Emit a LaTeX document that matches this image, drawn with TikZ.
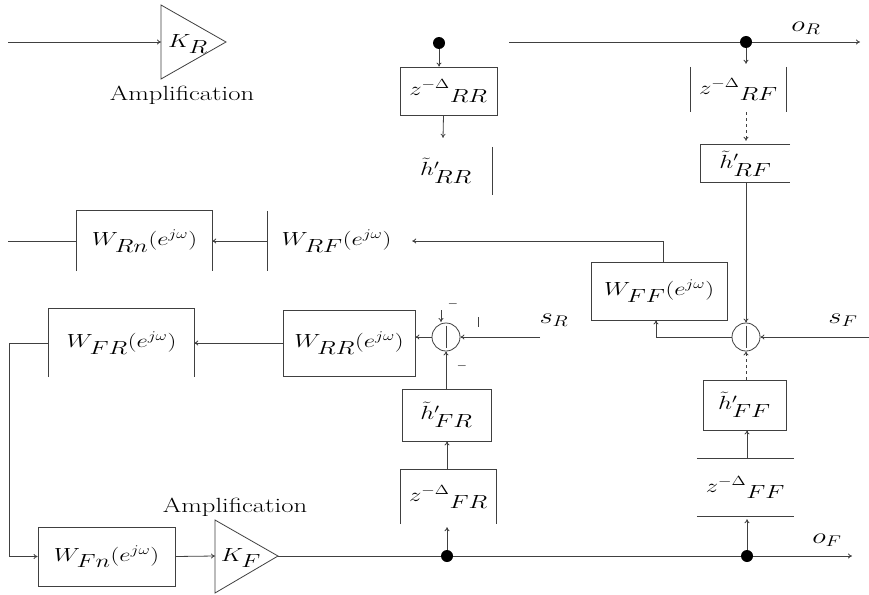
\RequirePackage{fix-cm}
\documentclass[tikz,border=0pt]{standalone}
\usepackage{fontspec}
\usetikzlibrary{arrows.meta}
\newcommand\hx[1]{\scalebox{1.3}[1]{#1}}
\begin{document}
\begin{tikzpicture}[x=1pt,y=-1pt,
  ln/.style={draw=black!75, line width=0.8pt},
  arr/.style={ln, -{To[length=4pt,width=5pt]}},
  lbl/.style={font=\fontsize{19}{23}\selectfont, inner sep=0pt},
  amp/.style={font=\fontsize{20.5}{24}\selectfont, inner sep=0pt},
  io/.style={font=\fontsize{22}{26}\selectfont, inner sep=0pt},
  sgn/.style={font=\fontsize{13}{15}\selectfont, inner sep=0pt},
  bx/.style 2 args={lbl, minimum width=#1pt, minimum height=#2pt},
  fullbx/.style={draw=black!75, line width=0.8pt},
  dot/.style={circle, fill=black, minimum size=12pt, inner sep=0pt},
  sum/.style={circle, draw=black!75, line width=0.8pt, minimum size=28pt, inner sep=0pt}]
\path[fill=white,use as bounding box] (0,0) rectangle (869,594);

% ---------- amplifier R ----------
\coordinate (KRl) at (161,42);
\draw[ln] (161,5) -- (226,42) coordinate (KRo) -- (161,79) -- cycle;
\node[lbl] (KR) at (188,44) {\hx{$K_{\textstyle R}$}};
\node[amp] (amp1) at (182,95) {\hx{Amplification}};
\coordinate (in1) at (8,42);
\draw[arr] (in1) -- (KRl);

% ---------- top blocks ----------
\node[dot] (d1) at (439,43) {};
\node[dot] (d2) at (746,42) {};
\node[bx={97}{48},fullbx] (zRR) at (448.5,91) {\hx{$z^{-\Delta}{}_{\textstyle RR}$}};
\node[bx={92}{48}] (hRR) at (446,171) {\hx{$\tilde h'_{\textstyle RR}$}};
\node[bx={95}{45}] (zRF) at (738.5,89.5) {\hx{$z^{-\Delta}{}_{\textstyle RF}$}};
\node[bx={89}{37}] (hRF) at (745.5,163.5) {\hx{$\tilde h'_{\textstyle RF}$}};

\draw[ln] (hRR.north east) -- (hRR.south east);
\draw[ln] (zRF.north west) -- (zRF.south west);
\draw[ln] (zRF.north east) -- (zRF.south east);
\draw[ln] (hRF.north east) -- (hRF.north west) -- (hRF.south west) -- (hRF.south east);

\draw[arr] (d1) -- (d1 |- zRR.north);
\draw[arr] ([xshift=-5pt]zRR.south) -- ([xshift=-3pt,yshift=9pt]hRR.north);
\coordinate (t0) at (509,42);
\coordinate (oRend) at (860,42);
\draw[ln] (t0) -- (d2);
\draw[arr] (d2) -- (oRend);
\node[io] (oR) at (806,28) {\hx{$o_{R}$}};
\draw[arr, shorten >=3pt] (d2) -- (d2 |- zRF.north);
\draw[arr, dashed, shorten >=4pt] (d2 |- zRF.south) -- (d2 |- hRF.north);

% ---------- W_Rn / W_RF row ----------
\node[bx={135}{60}] (WRn) at (144.5,241) {\hx{$W_{\textstyle Rn}(e^{j\omega})$}};
\node[bx={137}{60}] (WRF) at (336.5,241) {\hx{$W_{\textstyle RF}(e^{j\omega})$}};
\draw[ln] (WRn.south west) -- (WRn.north west) -- (WRn.north east) -- (WRn.south east);
\draw[ln] (WRF.north west) -- (WRF.south west);
\coordinate (in2) at (8,241);
\draw[ln] (in2) -- (WRn.west);
\draw[arr] (WRF.west) -- (WRn.east);

% ---------- middle row ----------
\node[bx={136}{58},fullbx] (WFF) at (659,291) {\hx{$W_{\textstyle FF}(e^{j\omega})$}};
\node[bx={145}{68}] (WFR) at (121.5,343) {\hx{$W_{\textstyle FR}(e^{j\omega})$}};
\node[bx={132}{66},fullbx] (WRR) at (349,343) {\hx{$W_{\textstyle RR}(e^{j\omega})$}};
\draw[ln] (WFR.south west) -- (WFR.north west) -- (WFR.north east) -- (WFR.south east);

\node[sum] (sR) at (446,337) {};
\node[sum] (sF) at (746,337) {};
\draw[ln] (sR.north) ++(0,3) -- ++(0,22);
\draw[ln] (sF.north) ++(0,3) -- ++(0,22);

\draw[arr] ([xshift=4pt]WFF.north) |- ([xshift=7pt]WRF.east);
\draw[arr] (d2 |- hRF.south) -- (sF.north);
\draw[arr] (sF.west) -| ([xshift=-3pt]WFF.south);
\draw[arr] (sR.west) -- (sR.west -| WRR.east);
\draw[arr] (WRR.west) -- (WFR.east);

\coordinate (sRin) at (540,337);
\coordinate (sFin) at (869,337);
\draw[arr] (sRin) -- (sR.east);
\draw[arr] (sFin) -- (sF.east);
\node[io] (sRl) at (554,320) {\hx{$s_{R}$}};
\node[io] (sFl) at (843,320) {\hx{$s_{F}$}};

\node[sgn] (m1) at (453,304) {$-$};
\node[sgn] (m2) at (462,366) {$-$};
\draw[ln] (478,317) -- (478,327);
\draw[arr] (441,310) -- (441,322);

% ---------- lower blocks ----------
\node[bx={89}{52},fullbx] (hFR) at (446.5,415) {\hx{$\tilde h'_{\textstyle FR}$}};
\node[bx={95}{54}] (zFR) at (448.5,497) {\hx{$z^{-\Delta}{}_{\textstyle FR}$}};
\node[bx={83}{50},fullbx] (hFF) at (744.5,405) {\hx{$\tilde h'_{\textstyle FF}$}};
\node[bx={97}{57}] (zFF) at (745.5,487.5) {\hx{$z^{-\Delta}{}_{\textstyle FF}$}};
\draw[ln] (zFR.south west) -- (zFR.north west) -- (zFR.north east) -- (zFR.south east);
\draw[ln] (zFF.north west) -- (zFF.north east);
\draw[ln] (zFF.south west) -- (zFF.south east);

% ---------- bottom row ----------
\node[bx={137}{59},fullbx] (WFn) at (106.5,556.5) {\hx{$W_{\textstyle Fn}(e^{j\omega})$}};
\coordinate (KFl) at (215,556);
\draw[ln] (215,520) -- (278,556) coordinate (KFo) -- (215,593) -- cycle;
\node[lbl] (KF) at (241,558) {\hx{$K_{\textstyle F}$}};
\node[amp] (amp2) at (235,507) {\hx{Amplification}};

\node[dot] (d3) at (447,556) {};
\node[dot] (d4) at (747,556) {};
\coordinate (oFend) at (852,556);
\node[io] (oF) at (827,540) {\hx{$o_{F}$}};

\draw[arr] (WFR.west) -- ++(-39,0) |- (WFn.west);
\draw[arr] (WFn.east) -- (KFl);
\draw[ln] (KFo) -- (d3) -- (d4);
\draw[arr] (d4) -- (oFend);

\draw[arr, shorten >=3pt] (d3) -- (d3 |- zFR.south);
\draw[arr] (d3 |- zFR.north) -- (d3 |- hFR.south);
\draw[arr] (sR.south |- hFR.north) -- (sR.south);

\draw[arr, shorten >=3pt] (d4) -- (d4 |- zFF.south);
\draw[arr] (d4 |- zFF.north) -- (d4 |- hFF.south);
\draw[arr, dashed] (sF.south |- hFF.north) -- (sF.south);
\end{tikzpicture}
\end{document}
